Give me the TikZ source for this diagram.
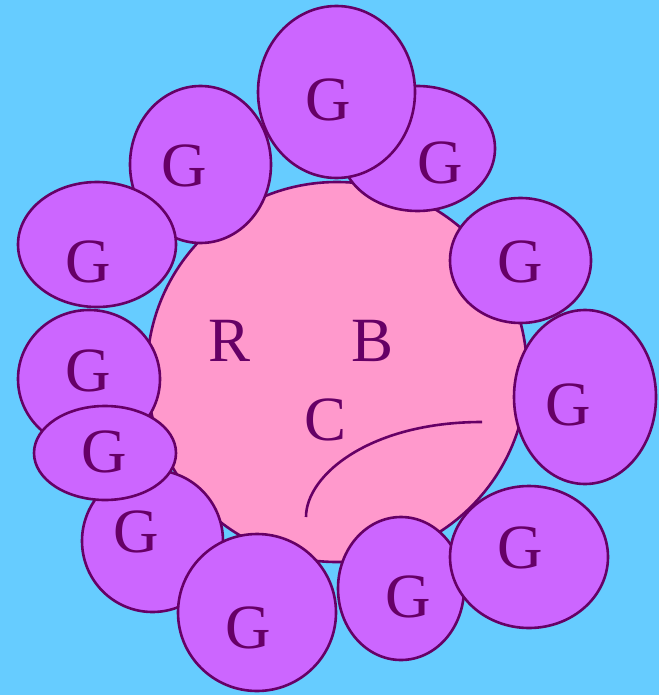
\documentclass[tikz,border=0pt]{standalone}
\usepackage{fontspec}
\setmainfont{Liberation Serif}
\usetikzlibrary{shapes.geometric}
\definecolor{Sky}{HTML}{66CCFF}
\definecolor{Rose}{HTML}{FF99CC}
\definecolor{Violet}{HTML}{CC66FF}
\definecolor{Plum}{HTML}{660066}

\begin{document}
\begin{tikzpicture}[x=1pt,y=-1pt, every node/.style={font=\fontsize{63}{63}\selectfont, text=Plum}]
\tikzstyle{blob}=[ellipse,draw=Plum,fill=Violet,line width=2.6pt,inner sep=0pt]
\tikzstyle{cell}=[circle,draw=Plum,fill=Rose,line width=2.6pt,inner sep=0pt,minimum size=380pt]
\fill[Sky] (0,0) rectangle (659,695);
\useasboundingbox (0,0) rectangle (659,695);
% central cell
\node[cell] (cell) at (337,372) {};
\node (r) at (230,341) {R};
\node (b) at (373,341) {B};
\node (c) at (326,420) {C};
\coordinate (cs) at (306,517);
\coordinate (ce) at (482,422);
\draw[Plum,line width=2.6pt] (cs) .. controls (306,475) and (370,422) .. (ce);
% granules around the cell
\node[blob,minimum width=141pt,minimum height=157pt] (g3) at (200.5,164.5) {};
\node[blob,minimum width=158pt,minimum height=125pt] (g4) at (97,244.5) {};
\node[blob,minimum width=155pt,minimum height=125pt] (g2) at (417.5,148.5) {};
\node[blob,minimum width=157pt,minimum height=172pt] (g1) at (336.5,92) {};
\node[blob,minimum width=141pt,minimum height=125pt] (g5) at (520.5,260.5) {};
\node[blob,minimum width=142pt,minimum height=174pt] (g8) at (585,397) {};
\node[blob,minimum width=142pt,minimum height=138pt] (g6) at (89,379) {};
\node[blob,minimum width=141pt,minimum height=142pt] (g9) at (152.5,541) {};
\node[blob,minimum width=142pt,minimum height=94pt] (g7) at (105,453) {};
\node[blob,minimum width=158pt,minimum height=157pt] (g10) at (257,612.5) {};
\node[blob,minimum width=126pt,minimum height=143pt] (g11) at (401,588.5) {};
\node[blob,minimum width=158pt,minimum height=142pt] (g12) at (529,557) {};
% labels
\node (l1) at (328,100) {G};
\node (l2) at (440,163) {G};
\node (l3) at (184,166) {G};
\node (l4) at (88,262) {G};
\node (l5) at (520,262) {G};
\node (l6) at (88,371) {G};
\node (l7) at (104,452) {G};
\node (l8) at (568,405) {G};
\node (l9) at (136,532) {G};
\node (l10) at (248,628) {G};
\node (l11) at (408,597) {G};
\node (l12) at (520,548) {G};
\end{tikzpicture}
\end{document}
